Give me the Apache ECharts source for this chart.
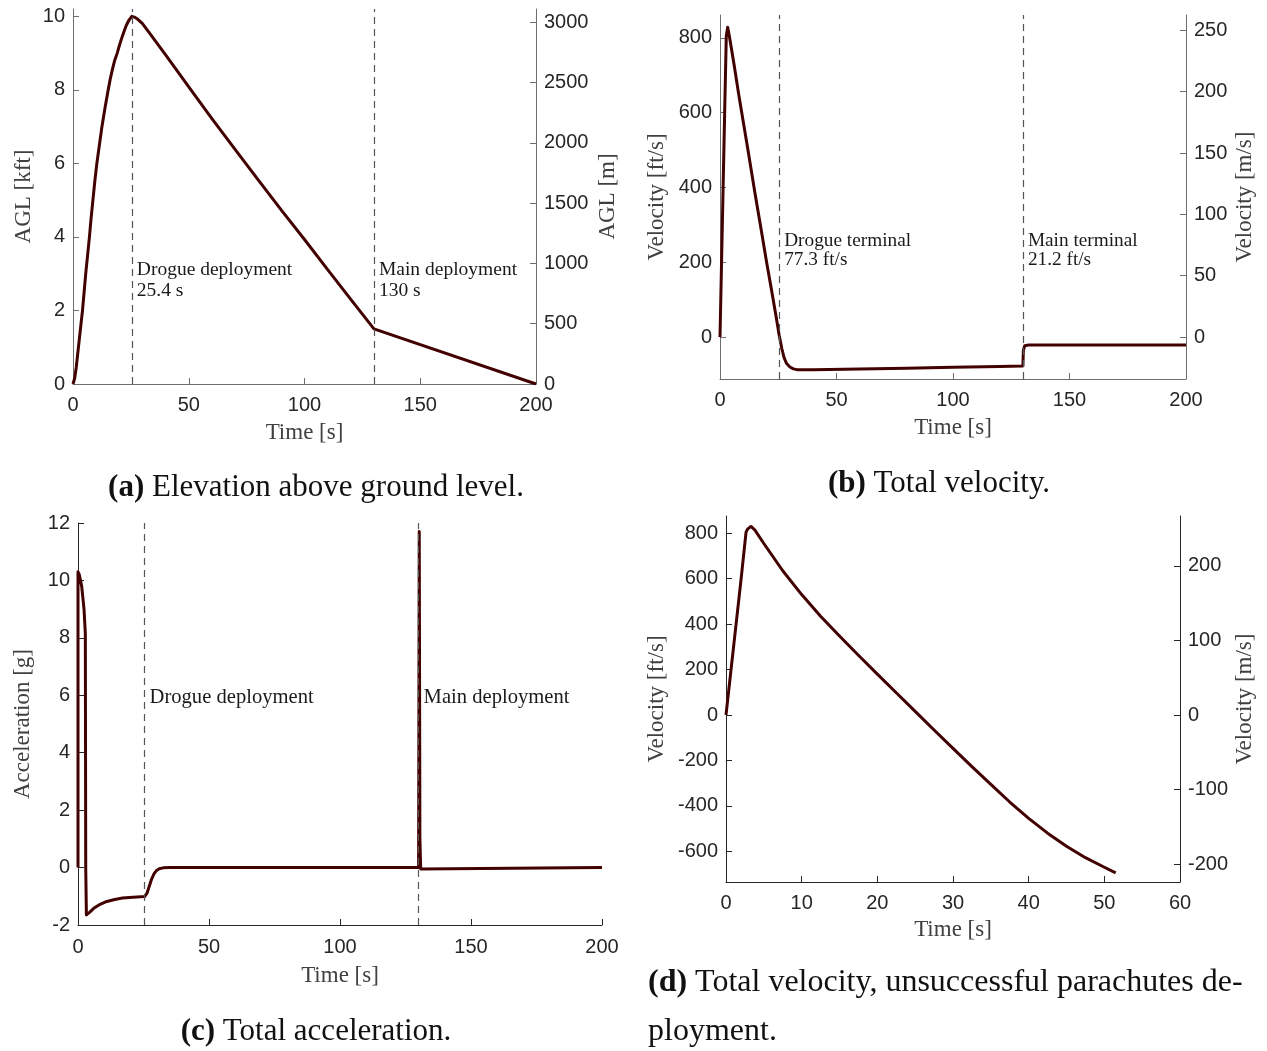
<!DOCTYPE html>
<html>
<head>
<meta charset="utf-8">
<script src="https://cdn.jsdelivr.net/npm/echarts@6/dist/echarts.min.js"></script>
<style>
  html, body { margin: 0; padding: 0; background: #fff; }
  #main { width: 1267px; height: 1051px; }
</style>
</head>
<body>
<div id="main"></div>
<script>
// (a) elevation above ground level, kft
const aglTime = [0, 0.7, 1.4, 2.0, 2.7, 3.4, 4.1, 4.8, 5.5, 6.3, 7.1, 7.8, 8.6, 9.4, 10.3, 11.4, 12.5, 13.8, 15.2, 16.1, 17, 18, 19.1, 20, 21, 22, 23, 24.2, 25.4, 26.5, 28, 30, 33, 40, 50, 60, 70, 80, 90, 100, 110, 120, 130, 200];
const aglKft = [0, 0.15, 0.45, 0.8, 1.2, 1.6, 2.0, 2.5, 3.0, 3.5, 4.0, 4.5, 5.0, 5.5, 6.0, 6.5, 7.0, 7.5, 8.0, 8.3, 8.55, 8.8, 9.0, 9.2, 9.4, 9.58, 9.75, 9.9, 10.0, 9.98, 9.92, 9.8, 9.55, 8.95, 8.08, 7.22, 6.38, 5.55, 4.73, 3.93, 3.11, 2.3, 1.5, 0];

// (b) total velocity, ft/s
const velTime = [0, 1, 2, 2.7, 3.3, 4, 6, 8, 10, 12, 15, 18, 20, 22, 24, 25.4, 26.5, 27.5, 28.5, 30, 31.5, 33, 40, 60, 80, 100, 120, 130, 130.2, 130.8, 132.5, 200];
const velFts = [0, 300, 600, 805, 828, 805, 730, 650, 575, 500, 385, 275, 200, 130, 58, 5, -30, -55, -70, -80, -85, -87, -87, -85, -83, -80.5, -78.3, -77.3, -35, -23, -21.2, -21.2];

// (c) total acceleration, g
const accTime = [0, 0, 0.5, 1.4, 2.3, 2.8, 2.95, 3.2, 4.5, 6, 8, 11, 14, 17, 21, 25.4, 26.3, 27.2, 28.1, 29, 30, 31, 32.5, 35, 130.0, 130.25, 130.5, 130.8, 131.5, 200];
const accG = [0, 10.3, 10.2, 9.8, 9.0, 8.15, 0, -1.65, -1.55, -1.42, -1.3, -1.18, -1.11, -1.06, -1.03, -1.01, -0.9, -0.65, -0.4, -0.22, -0.1, -0.04, -0.01, 0, 0, 11.7, 1.0, -0.05, 0, 0];

// (d) total velocity, unsuccessful deployment, ft/s
const failTime = [0, 1, 2, 2.65, 2.85, 3.05, 3.3, 3.5, 3.8, 5, 7.5, 10, 12.5, 15, 17.5, 20, 22.5, 25, 27.5, 30, 32.5, 35, 37.5, 40, 42.5, 45, 47.5, 50, 51.5];
const failVel = [0, 300, 600, 805, 818, 826, 830, 828, 815, 755, 635, 530, 435, 348, 263, 180, 98, 16, -66, -147, -227, -305, -383, -455, -520, -578, -628, -670, -695];

const deployTimes = [25.4, 130];

// tick labels
const timeTicks = [0, 50, 100, 150, 200];
const failTimeTicks = [0, 10, 20, 30, 40, 50, 60];
const aglKftTicks = [0, 2, 4, 6, 8, 10];
const aglMTicks = [0, 500, 1000, 1500, 2000, 2500, 3000];
const velFtsTicks = [0, 200, 400, 600, 800];
const velMsTicks = [0, 50, 100, 150, 200, 250];
const accTicks = [-2, 0, 2, 4, 6, 8, 10, 12];
const failFtsTicks = [-600, -400, -200, 0, 200, 400, 600, 800];
const failMsTicks = [-200, -100, 0, 100, 200];

const FT_TO_M = 0.3048;
const lineColor = '#420000';
const tickFont = { fontFamily: 'Liberation Sans', fontSize: 20, color: '#262626' };
const nameFont = { fontFamily: 'Liberation Serif', fontSize: 23, color: '#404040' };

const zip = (xs, ys) => xs.map((x, i) => [x, ys[i]]);

function axis(grid, min, max, ticks, name, gap, axisColor, extra, labelMargin) {
    return Object.assign({
        type: 'value', gridIndex: grid, min: min, max: max,
        name: name, nameLocation: 'middle', nameGap: gap, nameTextStyle: nameFont,
        axisLine: { show: true, onZero: false, lineStyle: { color: axisColor, width: 1 } },
        axisTick: { show: true, inside: true, length: 6, customValues: ticks, lineStyle: { color: axisColor } },
        axisLabel: Object.assign({
            customValues: ticks, margin: labelMargin || 8,
            formatter: v => String(Math.round(v))
        }, tickFont),
        splitLine: { show: false }
    }, extra || {});
}

// dashed deployment lines
const dashed = {
    silent: true, symbol: ['none', 'none'], label: { show: false },
    lineStyle: { type: [7, 5], color: '#555', width: 1.2 },
    data: deployTimes.map(t => ({ xAxis: t }))
};

function notes(items, size, lh) {
    return {
        silent: true, symbol: 'circle', symbolSize: 0,
        label: {
            show: true, position: 'right', distance: 5, formatter: '{b}',
            fontFamily: 'Liberation Serif', fontSize: size, lineHeight: lh, color: '#1a1a1a'
        },
        data: items
    };
}

const chart = echarts.init(document.getElementById('main'));

const gray = '#6e6e6e';
const dark = '#262626';

const option = {
    animation: false,
    grid: [
        { left: 73, top: 9, width: 463, height: 375 },
        { left: 720, top: 15, width: 466, height: 364 },
        { left: 78, top: 523, width: 524, height: 402 },
        { left: 726, top: 516, width: 454, height: 366 }
    ],
    xAxis: [
        axis(0, 0, 200, timeTicks, 'Time [s]', 37, gray, null, 11),
        axis(1, 0, 200, timeTicks, 'Time [s]', 37, gray, null, 11),
        axis(2, 0, 200, timeTicks, 'Time [s]', 39, dark, null, 12),
        axis(3, 0, 60, failTimeTicks, 'Time [s]', 36, dark, null, 11)
    ],
    yAxis: [
        axis(0, 0, 10.2, aglKftTicks, 'AGL [kft]', 38, gray, { nameRotate: 90 }),
        axis(0, 0, 10.2 * 304.8, aglMTicks, 'AGL [m]', 60, gray, { position: 'right', nameRotate: 90 }),
        axis(1, -112, 861, velFtsTicks, 'Velocity [ft/s]', 52, gray, { nameRotate: 90 }),
        axis(1, -112 * FT_TO_M, 861 * FT_TO_M, velMsTicks, 'Velocity [m/s]', 47, gray, { position: 'right', nameRotate: 90 }),
        axis(2, -2, 12, accTicks, 'Acceleration [g]', 44, dark, { nameRotate: 90 }),
        axis(3, -735, 876, failFtsTicks, 'Velocity [ft/s]', 58, dark, { nameRotate: 90 }),
        axis(3, -735 * FT_TO_M, 876 * FT_TO_M, failMsTicks, 'Velocity [m/s]', 53, dark, { position: 'right', nameRotate: 90 })
    ],
    series: [
        {
            type: 'line', xAxisIndex: 0, yAxisIndex: 0, data: zip(aglTime, aglKft),
            showSymbol: false, lineStyle: { color: lineColor, width: 3, join: 'round' },
            markLine: dashed,
            markPoint: notes([
                { name: 'Drogue deployment\n25.4 s', coord: [25.4, 2.82] },
                { name: 'Main deployment\n130 s', coord: [130, 2.82] }
            ], 19.5, 21)
        },
        {
            type: 'line', xAxisIndex: 1, yAxisIndex: 2, data: zip(velTime, velFts),
            showSymbol: false, lineStyle: { color: lineColor, width: 3, join: 'round' },
            markLine: dashed,
            markPoint: notes([
                { name: 'Drogue terminal\n77.3 ft/s', coord: [25.4, 232] },
                { name: 'Main terminal\n21.2 ft/s', coord: [130, 232] }
            ], 19.3, 19)
        },
        {
            type: 'line', xAxisIndex: 2, yAxisIndex: 4, data: zip(accTime, accG),
            showSymbol: false, lineStyle: { color: lineColor, width: 3, join: 'round' },
            markLine: dashed,
            markPoint: notes([
                { name: 'Drogue deployment', coord: [25.4, 5.93] },
                { name: 'Main deployment', coord: [130, 5.93] }
            ], 20.6, 21)
        },
        {
            type: 'line', xAxisIndex: 3, yAxisIndex: 5, data: zip(failTime, failVel),
            showSymbol: false, lineStyle: { color: lineColor, width: 3, join: 'round' }
        }
    ],
    graphic: [
        caption(316, 488, '{b|(a)} Elevation above ground level.', 'center'),
        caption(939, 484, '{b|(b)} Total velocity.', 'center'),
        caption(316, 1032, '{b|(c)} Total acceleration.', 'center'),
        caption(648, 983, '{b|(d)} Total velocity, unsuccessful parachutes de-', 'left', 32),
        caption(648, 1032, 'ployment.', 'left', 32)
    ]
};

function caption(x, y, text, align, size) {
    const fs = size || 31;
    return {
        type: 'text', x: x, y: y, silent: true,
        style: {
            text: text, align: align, verticalAlign: 'middle',
            fontFamily: 'Liberation Serif', fontSize: fs, fill: '#111',
            rich: { b: { fontFamily: 'Liberation Serif', fontSize: fs, fontWeight: 'bold', fill: '#111' } }
        }
    };
}

chart.setOption(option);
</script>
</body>
</html>
